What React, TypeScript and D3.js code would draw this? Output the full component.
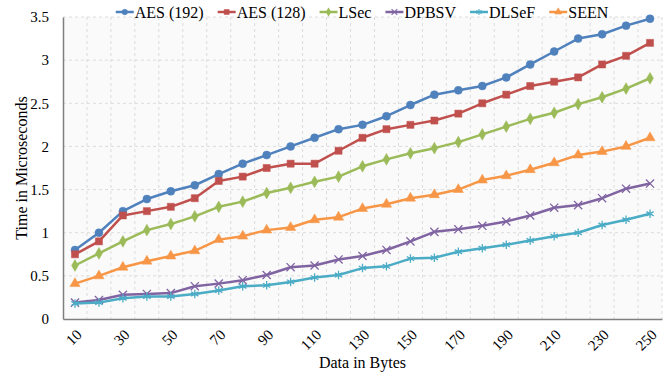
import React, { useRef, useEffect } from 'react';
import * as d3 from 'd3';

const dataBytes = [10, 20, 30, 40, 50, 60, 70, 80, 90, 100, 110, 120, 130, 140, 150, 160, 170, 180, 190, 200, 210, 220, 230, 240, 250];
const aes192 = [0.80, 1.00, 1.25, 1.39, 1.48, 1.55, 1.68, 1.80, 1.90, 2.00, 2.10, 2.20, 2.25, 2.35, 2.48, 2.60, 2.65, 2.70, 2.80, 2.95, 3.10, 3.25, 3.30, 3.40, 3.48];
const aes128 = [0.75, 0.90, 1.20, 1.25, 1.30, 1.40, 1.60, 1.65, 1.75, 1.80, 1.80, 1.95, 2.10, 2.20, 2.25, 2.30, 2.38, 2.50, 2.60, 2.70, 2.75, 2.80, 2.95, 3.05, 3.20];
const lsec = [0.62, 0.76, 0.90, 1.03, 1.10, 1.19, 1.30, 1.36, 1.46, 1.52, 1.59, 1.65, 1.77, 1.85, 1.92, 1.98, 2.05, 2.14, 2.23, 2.32, 2.39, 2.49, 2.57, 2.67, 2.79];
const dpbsv = [0.19, 0.22, 0.28, 0.29, 0.30, 0.38, 0.41, 0.45, 0.51, 0.60, 0.62, 0.69, 0.73, 0.80, 0.90, 1.01, 1.04, 1.08, 1.13, 1.20, 1.29, 1.32, 1.40, 1.51, 1.57];
const dlsef = [0.18, 0.19, 0.24, 0.26, 0.26, 0.29, 0.33, 0.38, 0.39, 0.43, 0.48, 0.51, 0.59, 0.61, 0.70, 0.71, 0.78, 0.82, 0.86, 0.91, 0.96, 1.00, 1.09, 1.15, 1.22];
const seen = [0.41, 0.50, 0.60, 0.67, 0.73, 0.79, 0.92, 0.96, 1.03, 1.06, 1.15, 1.18, 1.28, 1.33, 1.40, 1.44, 1.50, 1.61, 1.66, 1.73, 1.81, 1.90, 1.94, 2.00, 2.10];
const yTicks = [0, 0.5, 1, 1.5, 2, 2.5, 3, 3.5];
const xTickLabels = [10, 30, 50, 70, 90, 110, 130, 150, 170, 190, 210, 230, 250];

const seriesList = [
  { name: 'AES (192)', values: aes192, color: '#4F81BD', symbol: d3.symbolCircle, size: 50, stroked: false },
  { name: 'AES (128)', values: aes128, color: '#C0504D', symbol: d3.symbolSquare, size: 50, stroked: false },
  { name: 'LSec', values: lsec, color: '#9BBB59', symbol: d3.symbolDiamond, size: 40, stroked: false },
  { name: 'DPBSV', values: dpbsv, color: '#8064A2', symbol: d3.symbolX, size: 45, stroked: true },
  { name: 'DLSeF', values: dlsef, color: '#4BACC6', symbol: d3.symbolAsterisk, size: 50, stroked: true },
  { name: 'SEEN', values: seen, color: '#F79646', symbol: d3.symbolTriangle, size: 45, stroked: false },
];

const FONT = '"Liberation Serif", "Times New Roman", serif';

const App = () => {
  const svgRef = useRef(null);

  useEffect(() => {
    const width = 672;
    const height = 376;
    const margin = { top: 17, right: 10, bottom: 57, left: 63 };
    const innerW = width - margin.left - margin.right;
    const innerH = height - margin.top - margin.bottom;

    const root = d3.select(svgRef.current);
    root.selectAll('*').remove();
    root.attr('width', width).attr('height', height);

    root.append('rect').attr('width', width).attr('height', height).attr('fill', '#ffffff');

    const svg = root.append('g').attr('transform', `translate(${margin.left},${margin.top})`);

    const xScale = d3.scaleBand().domain(dataBytes.map(String)).range([0, innerW]).padding(0);
    const yScale = d3.scaleLinear().domain([0, 3.5]).range([innerH, 0]);

    // plot background
    svg.append('rect').attr('width', innerW).attr('height', innerH).attr('fill', '#fafafa');

    // vertical grid at band edges
    const edges = dataBytes.map(d => xScale(String(d)) + xScale.bandwidth());
    svg.append('g')
      .selectAll('line')
      .data(edges)
      .join('line')
      .attr('x1', d => d).attr('x2', d => d)
      .attr('y1', 0).attr('y2', innerH)
      .attr('stroke', '#dcdcdc')
      .attr('stroke-dasharray', '3,3')
      .attr('stroke-width', 1);

    // horizontal grid
    svg.append('g')
      .selectAll('line')
      .data(yTicks.slice(1))
      .join('line')
      .attr('x1', 0).attr('x2', innerW)
      .attr('y1', d => yScale(d)).attr('y2', d => yScale(d))
      .attr('stroke', '#dcdcdc')
      .attr('stroke-dasharray', '3,3')
      .attr('stroke-width', 1);

    // y axis
    svg.append('g')
      .call(d3.axisLeft(yScale).tickValues(yTicks).tickSize(0).tickPadding(14).tickFormat(d3.format('')))
      .call(g => g.select('.domain').attr('stroke', '#7f7f7f').attr('stroke-width', 1.5))
      .call(g => g.selectAll('text').attr('font-family', FONT).attr('font-size', 15).attr('fill', '#000'));

    // x axis
    svg.append('g')
      .attr('transform', `translate(0,${innerH})`)
      .call(d3.axisBottom(xScale).tickValues(xTickLabels.map(String)).tickSize(0))
      .call(g => g.select('.domain').attr('stroke', '#7f7f7f').attr('stroke-width', 1.5))
      .call(g => g.selectAll('text')
        .attr('font-family', FONT)
        .attr('font-size', 15)
        .attr('fill', '#000')
        .attr('y', 0)
        .attr('dy', '0.35em')
        .attr('transform', 'translate(4,13) rotate(-45)')
        .style('text-anchor', 'end'));

    // lines + markers
    const line = d3.line()
      .x((d, i) => xScale(String(dataBytes[i])) + xScale.bandwidth() / 2)
      .y(d => yScale(d));

    seriesList.forEach(s => {
      svg.append('path')
        .datum(s.values)
        .attr('fill', 'none')
        .attr('stroke', s.color)
        .attr('stroke-width', 2.5)
        .attr('stroke-linejoin', 'round')
        .attr('d', line);

      const sym = d3.symbol().type(s.symbol).size(s.size);
      svg.append('g')
        .selectAll('path')
        .data(s.values)
        .join('path')
        .attr('transform', (d, i) => `translate(${xScale(String(dataBytes[i])) + xScale.bandwidth() / 2},${yScale(d)})`)
        .attr('d', sym())
        .attr('fill', s.stroked ? 'none' : s.color)
        .attr('stroke', s.color)
        .attr('stroke-width', s.stroked ? 1.3 : 0.5);
    });

    // axis titles
    svg.append('text')
      .attr('x', innerW / 2)
      .attr('y', innerH + 49)
      .attr('font-family', FONT)
      .attr('font-size', 16)
      .style('text-anchor', 'middle')
      .text('Data in Bytes');

    svg.append('text')
      .attr('transform', 'rotate(-90)')
      .attr('x', -innerH / 2)
      .attr('y', -margin.left + 27)
      .attr('font-family', FONT)
      .attr('font-size', 16)
      .style('text-anchor', 'middle')
      .text('Time in Microseconds');

    // legend
    const legend = root.append('g');
    let cursor = 0;
    seriesList.forEach(s => {
      const g = legend.append('g').attr('transform', `translate(${cursor},0)`);
      g.append('line').attr('x1', 0).attr('x2', 18).attr('y1', 0).attr('y2', 0)
        .attr('stroke', s.color).attr('stroke-width', 2.5);
      g.append('path')
        .attr('transform', 'translate(9,0)')
        .attr('d', d3.symbol().type(s.symbol).size(s.size * 0.5)())
        .attr('fill', s.stroked ? 'none' : s.color)
        .attr('stroke', s.color)
        .attr('stroke-width', s.stroked ? 1.1 : 0.5);
      const t = g.append('text')
        .attr('x', 19)
        .attr('dy', '0.35em')
        .attr('font-family', FONT)
        .attr('font-size', 16)
        .text(s.name);
      const w = (t.node() as SVGTextElement).getComputedTextLength();
      cursor += 19 + w + 14;
    });
    const total = cursor - 14;
    legend.attr('transform', `translate(${362 - total / 2},12)`);
  }, []);

  return <svg ref={svgRef} style={{ position: 'absolute', left: 0, top: 0 }}></svg>;
};

export default App;
